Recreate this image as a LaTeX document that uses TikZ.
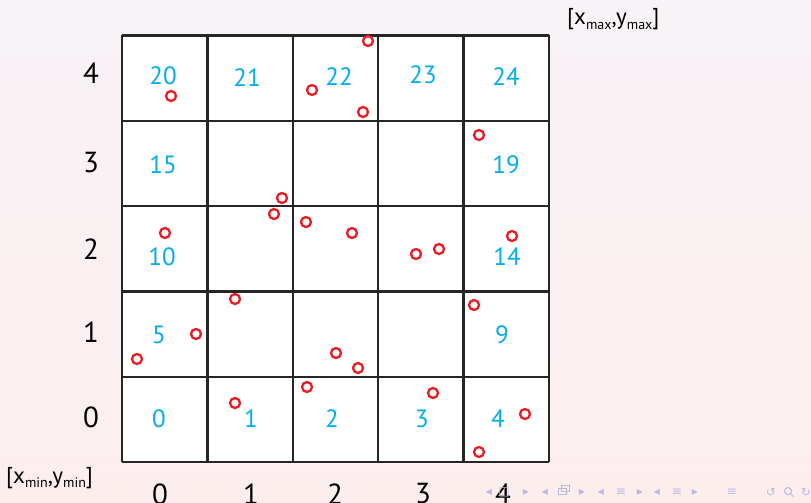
\documentclass[tikz,border=0pt]{standalone}
\usepackage{fontspec}
\setmainfont{PT Sans}
\newfontfamily\navfont{DejaVu Sans}
\usetikzlibrary{positioning}
\definecolor{cellblue}{RGB}{0,174,239}
\definecolor{ptred}{RGB}{237,28,36}
\definecolor{bgtop}{RGB}{247,243,247}
\definecolor{bgbot}{RGB}{253,238,238}
\definecolor{navgray}{RGB}{185,185,225}

\begin{document}
\begin{tikzpicture}[
    x=1pt, y=-1pt,
    gridline/.style={line width=2.4pt, draw=black!85},
    cellnum/.style={text=cellblue, font=\fontsize{25}{25}\selectfont, inner sep=0pt},
    axisnum/.style={font=\fontsize{29}{29}\selectfont, inner sep=0pt},
    sample/.style={circle, draw=ptred, line width=2.3pt, minimum size=10pt, inner sep=0pt},
    corner/.style={font=\fontsize{23}{23}\selectfont, inner sep=0pt, anchor=base west},
    nav/.style={text=navgray, font=\navfont\fontsize{12}{12}\selectfont, inner sep=0pt}
]
% background
\shade[top color=bgtop, bottom color=bgbot] (0,0) rectangle (811,503);
\useasboundingbox (0,0) rectangle (811,503);
\fill[white] (122,35.5) rectangle (549,462);

% grid
\foreach \i in {0,...,5} {
  \draw[gridline] (122+85.4*\i,35.5) -- (122+85.4*\i,462);
  \draw[gridline] (122,35.5+85.3*\i) -- (549,35.5+85.3*\i);
}

% cell numbers
\node[cellnum] (c20) at (163,76) {20};
\node[cellnum] (c21) at (247,78) {21};
\node[cellnum] (c22) at (339,77) {22};
\node[cellnum] (c23) at (423,75) {23};
\node[cellnum] (c24) at (506,77) {24};
\node[cellnum] (c15) at (163,165) {15};
\node[cellnum] (c19) at (506,165) {19};
\node[cellnum] (c10) at (162,257) {10};
\node[cellnum] (c14) at (507,257) {14};
\node[cellnum] (c5) at (159,335) {5};
\node[cellnum] (c9) at (502,335) {9};
\node[cellnum] (c0) at (159,419) {0};
\node[cellnum] (c1) at (251,419) {1};
\node[cellnum] (c2) at (332,419) {2};
\node[cellnum] (c3) at (422,419) {3};
\node[cellnum] (c4) at (498,419) {4};

% axis numbers
\foreach \k/\yy in {4/73, 3/163, 2/249, 1/332, 0/417}
  \node[axisnum] (ly\k) at (91,\yy) {\k};
\foreach \k/\xx in {0/160, 1/251, 2/335, 3/423, 4/503}
  \node[axisnum] (lx\k) at (\xx,494) {\k};

% corners
\node[corner] (cmin) at (6,483) {[x\raisebox{-0.42ex}{\fontsize{14}{14}\selectfont min},y\raisebox{-0.42ex}{\fontsize{14}{14}\selectfont min}]};
\node[corner] (cmax) at (567,25) {[x\raisebox{-0.42ex}{\fontsize{14}{14}\selectfont max},y\raisebox{-0.42ex}{\fontsize{14}{14}\selectfont max}]};

% sample points
\foreach \n/\px/\py in {
  1/171/96, 2/312/90, 3/368/41, 4/363/112,
  5/479/135,
  6/282/198, 7/274/214, 8/306/222, 9/352/233, 10/165/233,
  11/416/254, 12/439/249, 13/512/236,
  14/235/299, 15/474/305, 16/196/334, 17/137/359, 18/336/353, 19/358/368,
  20/307/387, 21/235/403, 22/433/393, 23/525/414, 24/479/452}
  \node[sample] (p\n) at (\px,\py) {};

% navigation symbols
\node[nav] (n1) at (489,492) {◂};
\node[nav] (n2) at (504,492) {□};
\node[nav] (n3) at (526,492) {▸};
\node[nav] (n4) at (545,492) {◂};
\draw[navgray, line width=0.9pt, fill=bgbot] (558,488) rectangle (566,494) (561,485) rectangle (569,491);
\node[nav] (n6) at (582,492) {▸};
\node[nav] (n7) at (601,492) {◂};
\node[nav] (n8) at (621,492) {≡};
\node[nav] (n9) at (640,492) {▸};
\node[nav] (n10) at (657,492) {◂};
\node[nav] (n11) at (677,492) {≡};
\node[nav] (n12) at (695,492) {▸};
\node[nav] (n13) at (732,492) {≡};
\node[nav] (n14) at (771,492) {↺};
\draw[navgray, line width=1pt] (788,491) circle (3.5) (790.5,493.5) -- (794,497);
\node[nav] (n15) at (806,492) {↻};
\end{tikzpicture}
\end{document}
